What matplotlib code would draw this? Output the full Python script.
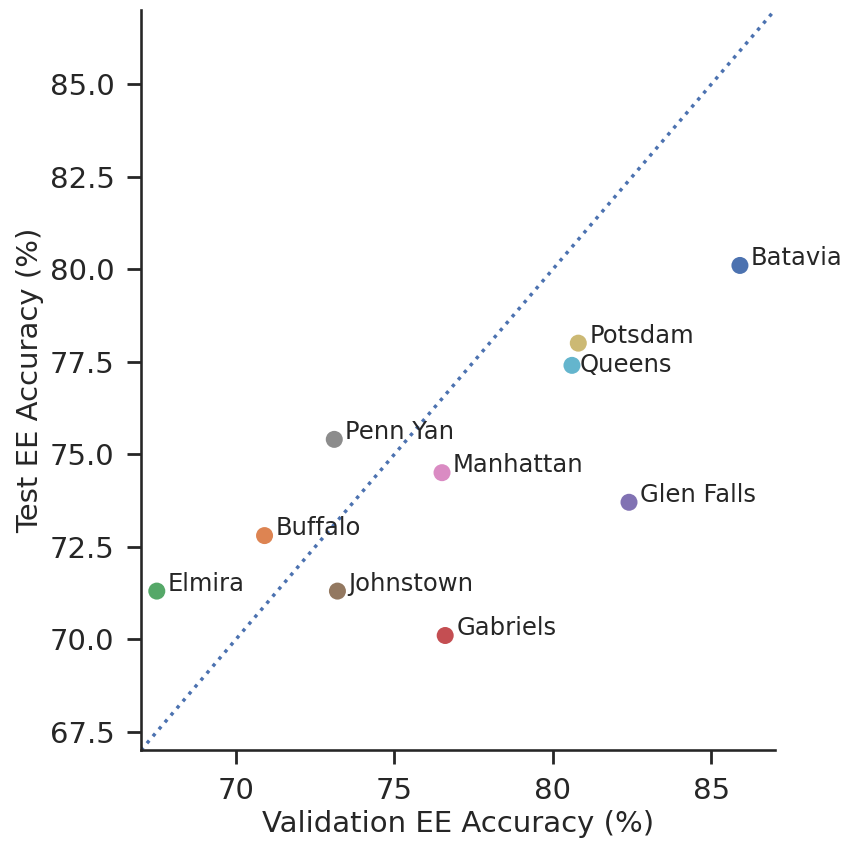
import numpy as np
import matplotlib
matplotlib.use('Agg')
import matplotlib.pyplot as plt
import seaborn as sns

sites = ['Batavia', 'Buffalo', 'Elmira', 'Gabriels', 'Glen Falls',
         'Johnstown', 'Manhattan', 'Penn Yan', 'Potsdam', 'Queens']
val_acc = [85.9, 70.9, 67.5, 76.6, 82.4, 73.2, 76.5, 73.1, 80.8, 80.6]
test_acc = [80.1, 72.8, 71.3, 70.1, 73.7, 71.3, 74.5, 75.4, 78.0, 77.4]

lims = [67, 87]

sns.set_theme(style='ticks', context='talk')

fig, ax = plt.subplots(1, 1, figsize=(8.44, 8.42), dpi=100)
fig.subplots_adjust(left=0.167, right=0.918, top=0.988, bottom=0.109)

colors = sns.color_palette('deep', len(sites))

# diagonal reference line
ax.plot(lims, lims, linestyle=':', color=colors[0], linewidth=2.5, zorder=1)

for i, name in enumerate(sites):
    ax.scatter(val_acc[i], test_acc[i], s=150, color=colors[i], zorder=3, edgecolor='none')
    if name == 'Queens':
        ax.text(val_acc[i] + 0.25, test_acc[i], name, fontsize=17.5,
                va='center', ha='left', zorder=4)
    else:
        ax.text(val_acc[i] + 0.35, test_acc[i] + 0.2, name, fontsize=17.5,
                va='center', ha='left', zorder=4)

ax.set_xlim(lims)
ax.set_ylim(lims)
ax.set_xticks([70, 75, 80, 85])
ax.set_yticks([67.5, 70.0, 72.5, 75.0, 77.5, 80.0, 82.5, 85.0])
ax.tick_params(axis='both', which='major', direction='out', labelsize=21,
               length=10, width=2, color='#262626', left=True, bottom=True, pad=9)
ax.set_xlabel('Validation EE Accuracy (%)', fontsize=21)
ax.set_ylabel('Test EE Accuracy (%)', fontsize=21)
sns.despine(ax=ax)

fig.savefig('out.png')
